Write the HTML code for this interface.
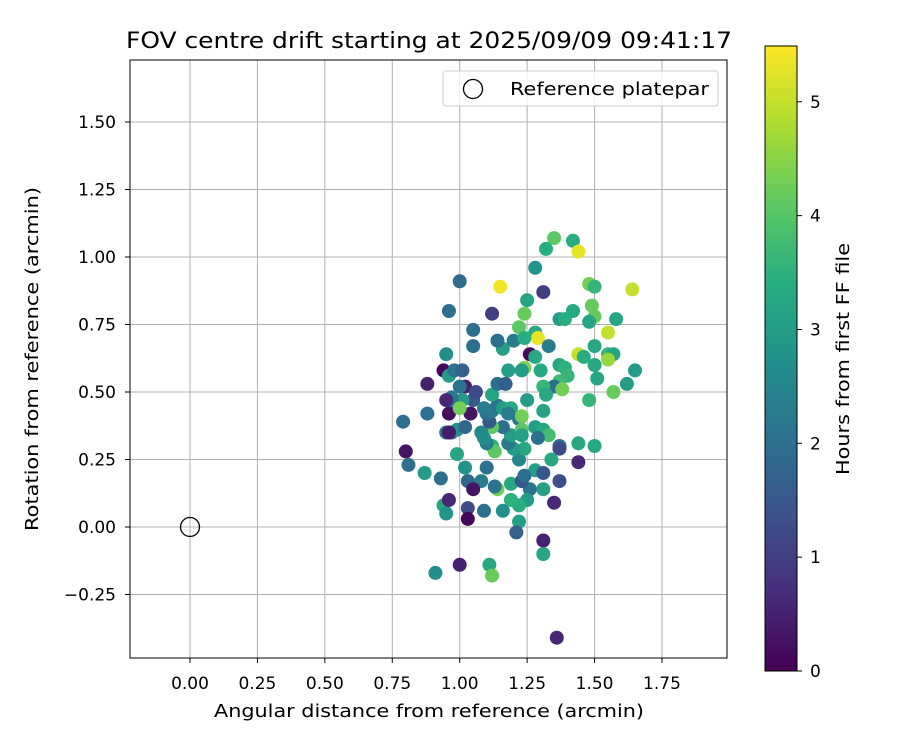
<!DOCTYPE html>
<html><head><meta charset="utf-8"><style>
body{margin:0;background:#fff;}
svg text{font-family:"DejaVu Sans","Liberation Sans",sans-serif;fill:#000;}
</style></head><body>
<svg id="chart" width="900" height="750" xmlns="http://www.w3.org/2000/svg">
<defs><linearGradient id="vir" x1="0" y1="1" x2="0" y2="0">
<stop offset="0" stop-color="#440154"/><stop offset="0.125" stop-color="#472d7b"/><stop offset="0.25" stop-color="#3b528b"/><stop offset="0.375" stop-color="#2c728e"/><stop offset="0.5" stop-color="#21918c"/><stop offset="0.625" stop-color="#28ae80"/><stop offset="0.75" stop-color="#5ec962"/><stop offset="0.875" stop-color="#addc30"/><stop offset="1" stop-color="#fde725"/></linearGradient>
<clipPath id="clip"><rect x="130" y="60" width="597" height="598"/></clipPath></defs>
<g id="grid"></g>
<g id="marks" clip-path="url(#clip)"></g>
<rect x="130" y="60" width="597" height="598" fill="none" stroke="#000" stroke-width="1"/>
<g id="ticks"></g>
<text x="429" y="48" font-size="22" text-anchor="middle" textLength="606" lengthAdjust="spacingAndGlyphs">FOV centre drift starting at 2025/09/09 09:41:17</text>
<text x="429" y="717" font-size="18" text-anchor="middle" textLength="430" lengthAdjust="spacingAndGlyphs">Angular distance from reference (arcmin)</text>
<text transform="translate(38,359) rotate(-90)" font-size="18" text-anchor="middle" textLength="344" lengthAdjust="spacingAndGlyphs">Rotation from reference (arcmin)</text>
<g>
<rect x="443" y="71" width="275" height="35" rx="3" fill="#fff" fill-opacity="0.8" stroke="#ccc"/>
<circle cx="473" cy="89" r="9.5" fill="none" stroke="#000" stroke-width="1.3"/>
<text x="510" y="95" font-size="18" textLength="199" lengthAdjust="spacingAndGlyphs">Reference platepar</text>
</g>
<g>
<rect x="765" y="46" width="32" height="625" fill="url(#vir)" stroke="#000" stroke-width="1"/>
<g id="cbticks"></g>
<text transform="translate(849,359) rotate(-90)" font-size="18" text-anchor="middle" textLength="232" lengthAdjust="spacingAndGlyphs">Hours from first FF file</text>
</g>
</svg>
<script>
const xTicks=[0,0.25,0.5,0.75,1.0,1.25,1.5,1.75];
const yTicks=[-0.25,0,0.25,0.5,0.75,1.0,1.25,1.5];
const cTicks=[0,1,2,3,4,5];
const refX=[0];const refY=[0];
const xs=[1.00,1.15,0.96,1.12,1.05,1.05,0.95,0.94,0.88,0.88,0.79,0.80,0.81,0.87,0.93,0.94,0.95,0.96,1.03,1.03,0.91,1.00,1.11,1.12,1.35,1.32,1.42,1.44,1.28,1.31,1.25,1.24,1.48,1.50,1.64,1.49,1.50,1.42,1.37,1.39,1.48,1.58,1.55,1.28,1.29,1.33,1.26,1.28,1.44,1.46,1.50,1.55,1.57,1.55,1.37,1.39,1.40,1.50,1.24,1.23,1.30,1.18,1.16,1.14,1.20,1.22,1.24,1.37,1.35,1.31,1.32,1.38,1.48,1.57,1.62,1.65,1.51,1.31,1.25,1.28,1.31,1.33,1.29,1.37,1.37,1.44,1.50,1.44,1.34,1.28,1.31,1.37,1.31,1.35,1.31,1.31,1.36,1.26,1.25,1.22,1.19,1.22,1.21,1.16,1.14,1.13,1.09,1.03,1.02,0.99,1.10,1.08,1.05,1.19,1.23,1.24,1.22,1.24,1.20,1.18,1.19,1.16,1.12,1.12,1.13,1.10,1.09,1.08,1.11,1.10,1.12,1.14,1.12,1.14,1.17,1.16,1.19,1.22,1.23,1.23,1.23,1.18,1.05,1.04,1.02,1.00,1.01,0.98,0.97,0.95,0.96,0.95,0.97,0.99,1.00,1.02,0.96,0.98,1.01,0.96,1.09,1.06];
const ys=[0.91,0.89,0.80,0.79,0.73,0.67,0.64,0.58,0.53,0.42,0.39,0.28,0.23,0.20,0.18,0.08,0.05,0.10,0.07,0.03,-0.17,-0.14,-0.14,-0.18,1.07,1.03,1.06,1.02,0.96,0.87,0.84,0.79,0.90,0.89,0.88,0.82,0.78,0.80,0.77,0.77,0.76,0.77,0.72,0.72,0.70,0.67,0.64,0.63,0.64,0.63,0.67,0.64,0.64,0.62,0.60,0.59,0.56,0.60,0.59,0.58,0.58,0.58,0.66,0.69,0.69,0.74,0.70,0.54,0.52,0.52,0.49,0.51,0.47,0.50,0.53,0.58,0.55,0.43,0.47,0.37,0.36,0.34,0.33,0.30,0.29,0.31,0.30,0.24,0.25,0.21,0.20,0.17,0.14,0.09,-0.05,-0.10,-0.41,0.14,0.10,0.08,0.10,0.02,-0.02,0.06,0.14,0.15,0.06,0.17,0.22,0.27,0.22,0.17,0.14,0.16,0.17,0.19,0.25,0.29,0.29,0.31,0.34,0.37,0.37,0.30,0.28,0.31,0.33,0.35,0.39,0.42,0.43,0.45,0.49,0.53,0.53,0.44,0.44,0.40,0.41,0.36,0.34,0.42,0.47,0.42,0.52,0.52,0.47,0.45,0.48,0.47,0.42,0.35,0.35,0.36,0.44,0.37,0.56,0.58,0.58,0.35,0.44,0.50];
const hours=[1.9,5.4,2.0,1.0,2.0,2.0,2.7,0.1,0.5,2.0,2.0,0.3,2.0,3.0,2.0,3.2,2.8,0.6,1.2,0.1,2.7,0.5,3.3,4.2,4.1,3.4,3.4,5.3,2.8,1.0,3.2,4.2,4.3,3.6,5.0,4.2,4.2,3.3,3.0,3.4,3.2,3.2,5.0,3.3,5.3,2.3,0.1,3.3,5.0,3.4,3.3,3.6,3.2,4.6,3.3,3.5,3.6,3.3,4.4,3.0,3.3,3.0,3.1,2.0,2.3,4.1,3.4,3.7,2.0,3.6,3.3,4.3,3.6,4.2,3.0,3.0,3.2,3.2,3.0,3.0,3.3,3.8,2.0,2.0,1.2,3.3,3.3,0.6,3.3,3.1,1.5,1.3,3.1,0.6,0.5,3.2,0.6,2.1,3.0,3.4,3.5,3.1,1.7,2.7,4.3,2.1,2.0,1.8,2.8,3.2,2.0,2.3,0.3,3.3,1.5,2.0,2.5,3.3,3.0,2.2,3.0,2.0,4.1,3.5,4.1,2.3,2.7,2.6,1.5,2.0,2.2,2.1,3.2,2.0,1.7,3.0,3.3,2.0,4.3,4.1,3.1,2.3,1.5,0.3,0.5,2.1,3.0,2.0,2.2,0.6,0.2,2.0,1.9,2.8,4.3,1.8,3.0,2.1,1.7,0.4,2.3,1.2];
const X=v=>190+v*269.7, Y=v=>527-v*270, HMAX=5.49, C=v=>671-v*(625/HMAX);
const stops=[[68,1,84],[71,45,123],[59,82,139],[44,114,142],[33,145,140],[40,174,128],[94,201,98],[173,220,48],[253,231,37]];
function vir(h){let t=Math.max(0,Math.min(1,h/HMAX))*8,i=Math.min(7,Math.floor(t)),f=t-i,a=stops[i],b=stops[i+1];
return 'rgb('+a.map((c,k)=>Math.round(c+(b[k]-c)*f)).join(',')+')';}
const NS='http://www.w3.org/2000/svg';
function mk(tag,attrs,parent){const e=document.createElementNS(NS,tag);for(const k in attrs)e.setAttribute(k,attrs[k]);parent.appendChild(e);return e;}
const grid=document.getElementById('grid'),ticks=document.getElementById('ticks'),marks=document.getElementById('marks'),cb=document.getElementById('cbticks');
xTicks.forEach(v=>{const x=X(v);
const g=mk('line',{x1:x,x2:x,y1:60,y2:658,stroke:'#b0b0b0','stroke-width':1},grid);


mk('line',{x1:x,x2:x,y1:658,y2:663,stroke:'#000'},ticks);
const t=mk('text',{x:x,y:689,'font-size':17,'text-anchor':'middle'},ticks);t.textContent=v.toFixed(2);

});
yTicks.forEach(v=>{const y=Y(v);
const g=mk('line',{x1:130,x2:727,y1:y,y2:y,stroke:'#b0b0b0','stroke-width':1},grid);


mk('line',{x1:125,x2:130,y1:y,y2:y,stroke:'#000'},ticks);
const t=mk('text',{x:116,y:y+6,'font-size':17,'text-anchor':'end'},ticks);t.textContent=(v<0?'\u2212':'')+Math.abs(v).toFixed(2);

});
xs.forEach((v,i)=>{const c=mk('circle',{cx:X(v),cy:Y(ys[i]),r:7,fill:vir(hours[i])},marks);

});
refX.forEach((v,i)=>{const c=mk('circle',{cx:X(v),cy:Y(refY[i]),r:9.5,fill:'none',stroke:'#000','stroke-width':1.3},marks);

});
cTicks.forEach(v=>{const y=C(v);
mk('line',{x1:797,x2:802,y1:y,y2:y,stroke:'#000'},cb);
const t=mk('text',{x:810,y:y+6,'font-size':17},cb);t.textContent=v;

});
</script>
</body></html>
